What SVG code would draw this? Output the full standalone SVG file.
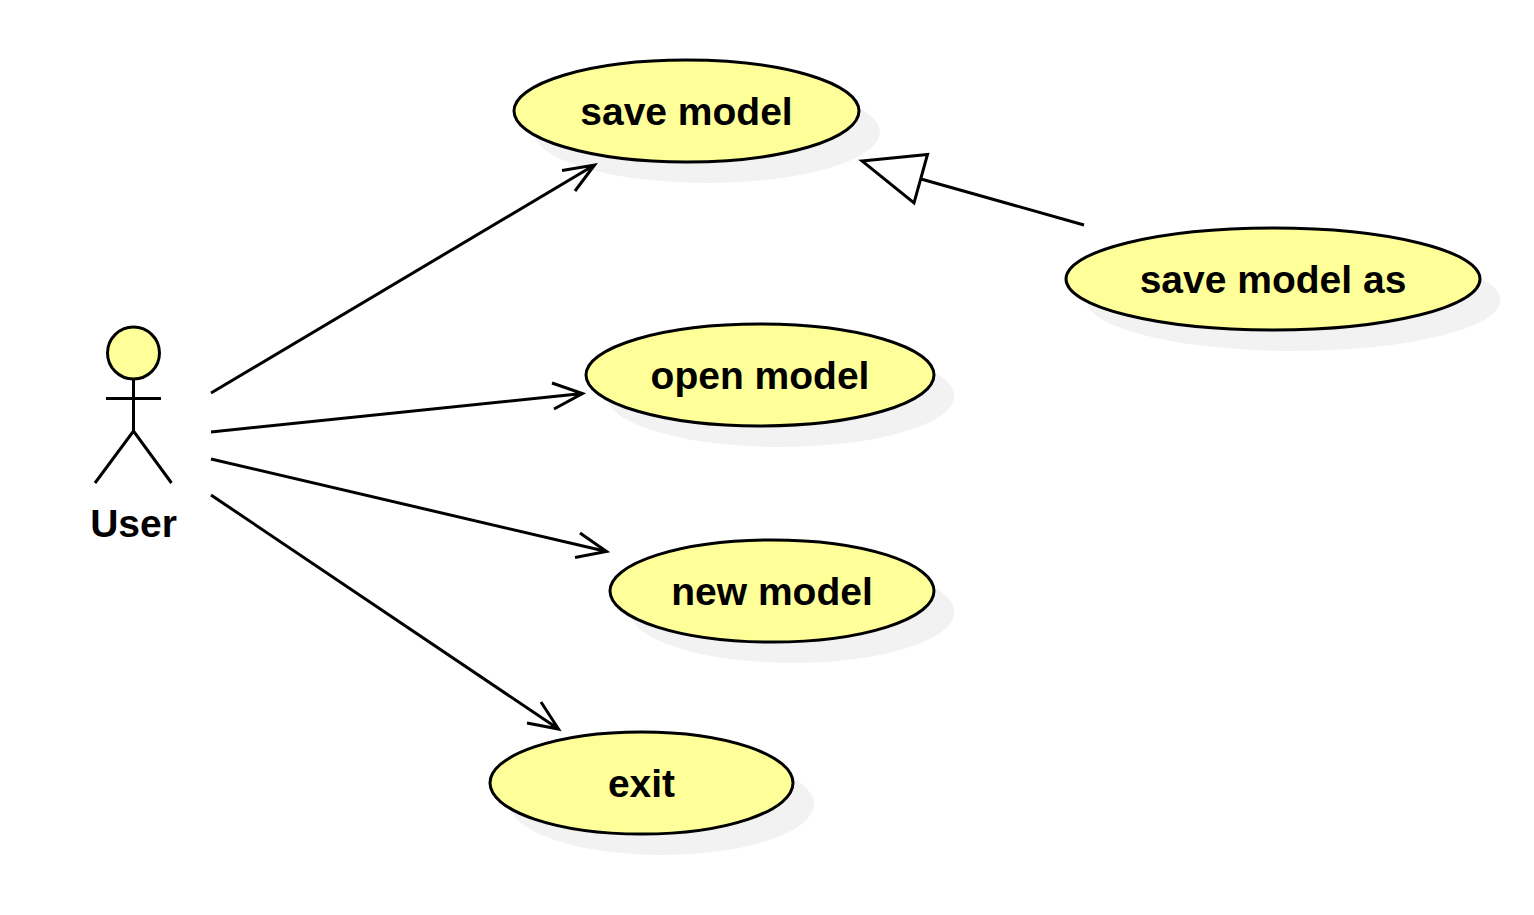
<svg xmlns="http://www.w3.org/2000/svg" width="1534" height="915" viewBox="0 0 1534 915">
<style>
.uc{fill:#ffff99;stroke:#000;stroke-width:3}
.sh{fill:#000;fill-opacity:.05;stroke:none}
.ln{fill:none;stroke:#000;stroke-width:3}
.hd{fill:#fff;stroke:#000;stroke-width:3}
text{font-family:"Liberation Sans",Arial,sans-serif;font-weight:bold;font-size:39px;text-anchor:middle;fill:#000}
</style>
<rect width="1534" height="915" fill="#fff"/>
<g id="connectors">
<path class="ln" d="M211 393L594.500 165M575 191L594.500 165L562 170.500"/>
<path class="ln" d="M211 432L582.500 393.500M552 383L582.500 393.500L554 409"/>
<path class="ln" d="M211 459L606.500 551.500M580 533L606.500 551.500L575 557.500"/>
<path class="ln" d="M211 495L558.500 729M541 702L558.500 729L527 723"/>
<path class="ln" d="M1084 225L921 179"/>
<path class="hd" d="M862 161L927.500 154.500L914 203Z"/>
</g>
<g id="save-model"><ellipse class="sh" cx="707" cy="132" rx="173" ry="51"/><ellipse class="uc" cx="686.500" cy="111" rx="172.500" ry="51"/><text x="686.500" y="124.500">save model</text></g>
<g id="save-model-as"><ellipse class="sh" cx="1293.500" cy="300" rx="207" ry="51"/><ellipse class="uc" cx="1273" cy="279" rx="207" ry="51"/><text x="1273" y="292.500">save model as</text></g>
<g id="open-model"><ellipse class="sh" cx="780.500" cy="396" rx="174" ry="51"/><ellipse class="uc" cx="760" cy="375" rx="174" ry="51"/><text x="760" y="388.500">open model</text></g>
<g id="new-model"><ellipse class="sh" cx="792.500" cy="612" rx="162" ry="51"/><ellipse class="uc" cx="772" cy="591" rx="162" ry="51"/><text x="772" y="604.500">new model</text></g>
<g id="exit"><ellipse class="sh" cx="662" cy="804" rx="152" ry="51"/><ellipse class="uc" cx="641.500" cy="783" rx="151.500" ry="51"/><text x="641.500" y="796.500">exit</text></g>
<g id="user"><circle class="uc" cx="133.500" cy="353" r="26"/><path class="ln" d="M133.500 379V431M106 398.500H161M95 483L133.500 431L171.500 483"/><text x="133.500" y="536.500">User</text></g>
</svg>
